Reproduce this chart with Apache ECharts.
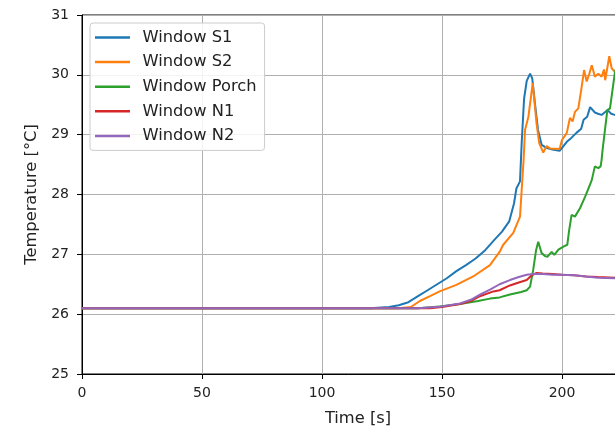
<!DOCTYPE html>
<html>
<head>
<meta charset="utf-8">
<script src="https://cdn.jsdelivr.net/npm/echarts@6/dist/echarts.min.js"></script>
<style>
html,body{margin:0;padding:0;background:#fff;}
#chart{width:615px;height:427px;}
</style>
</head>
<body>
<div id="chart"></div>
<script>
// ---- data ----
const seriesNames = ["Window S1", "Window S2", "Window Porch", "Window N1", "Window N2"];

const timeS1 = [0, 60, 120, 128, 132, 136, 140, 144, 148, 152, 156, 160, 164, 168, 172, 175, 178, 180, 181, 182.5, 183.2, 184.2, 185.3, 186.7, 187.6, 188.7, 190, 191.5, 193.5, 196, 199, 202, 204, 206, 208, 209, 210.5, 211.7, 213.7, 215, 216.5, 218, 219, 220.5, 222, 224];
const tempS1 = [26.1, 26.1, 26.1, 26.12, 26.15, 26.2, 26.3, 26.4, 26.5, 26.6, 26.72, 26.82, 26.93, 27.07, 27.25, 27.38, 27.55, 27.85, 28.1, 28.22, 28.86, 29.6, 29.9, 30.02, 29.94, 29.53, 29.08, 28.83, 28.78, 28.75, 28.73, 28.88, 28.95, 29.03, 29.1, 29.25, 29.3, 29.46, 29.37, 29.35, 29.33, 29.38, 29.41, 29.35, 29.33, 29.3];

const timeS2 = [0, 60, 120, 132, 137, 140.8, 145, 149, 156, 163, 170, 171.4, 174, 175.5, 179.7, 182.5, 184, 184.6, 186, 187.8, 189.4, 190.5, 192.2, 193.6, 195, 199, 200, 202, 203.3, 204.4, 205.4, 206.8, 208.2, 209.2, 210.3, 211.4, 212.4, 213.7, 215.1, 216.5, 217.5, 218, 219.7, 220.7, 222, 224];
const tempS2 = [26.1, 26.1, 26.1, 26.1, 26.12, 26.22, 26.3, 26.38, 26.49, 26.63, 26.82, 26.9, 27.04, 27.16, 27.36, 27.63, 28.58, 29.08, 29.3, 29.86, 29.19, 28.86, 28.7, 28.81, 28.77, 28.76, 28.91, 29.03, 29.28, 29.22, 29.38, 29.44, 29.8, 30.08, 29.89, 30.02, 30.16, 29.97, 30.02, 29.97, 30.09, 29.91, 30.31, 30.11, 30.05, 30.1];

const timePorch = [0, 60, 120, 140, 149, 157.5, 165, 170, 174, 178.3, 183, 185.3, 186.7, 188, 189.2, 190.1, 190.8, 191.5, 193, 193.9, 195.7, 196.8, 198.5, 200.6, 202.2, 203, 204, 205.4, 207.5, 209.6, 211, 212.4, 213.7, 215.1, 216.1, 216.5, 216.9, 217.9, 218.9, 220, 220.7, 222, 224];
const tempPorch = [26.1, 26.1, 26.1, 26.1, 26.13, 26.17, 26.22, 26.26, 26.28, 26.33, 26.37, 26.4, 26.46, 26.74, 27.07, 27.21, 27.18, 27.02, 26.97, 26.96, 27.04, 26.99, 27.08, 27.13, 27.16, 27.41, 27.66, 27.63, 27.77, 27.96, 28.1, 28.24, 28.47, 28.44, 28.47, 28.58, 28.74, 29.08, 29.41, 29.44, 29.47, 30.03, 30.3];

const timeN1 = [0, 60, 120, 145, 150, 157.5, 162, 165.8, 171.4, 174, 178.3, 182, 185.3, 187.4, 189.4, 192, 196, 200, 205, 210, 215, 222, 224];
const tempN1 = [26.1, 26.1, 26.1, 26.1, 26.12, 26.17, 26.22, 26.3, 26.38, 26.4, 26.48, 26.53, 26.57, 26.65, 26.69, 26.68, 26.67, 26.66, 26.65, 26.63, 26.62, 26.61, 26.61];

const timeN2 = [0, 60, 120, 140, 150, 157.5, 162, 166, 170, 174, 178.3, 182, 185.3, 188, 192, 196, 200, 205, 210, 215, 222, 224];
const tempN2 = [26.1, 26.1, 26.1, 26.1, 26.13, 26.18, 26.24, 26.33, 26.41, 26.5, 26.57, 26.62, 26.66, 26.67, 26.67, 26.66, 26.66, 26.65, 26.63, 26.61, 26.6, 26.6];

const xTicks = [0, 50, 100, 150, 200];
const yTicks = [25, 26, 27, 28, 29, 30, 31];

const colors = ["#1f77b4", "#ff7f0e", "#2ca02c", "#d62728", "#9467bd"];

// ---- build ----
function zip(t, v) { return t.map((x, i) => [x, v[i]]); }
const allData = [zip(timeS1, tempS1), zip(timeS2, tempS2), zip(timePorch, tempPorch), zip(timeN1, tempN1), zip(timeN2, tempN2)];

const FONT = "DejaVu Sans";
const chart = echarts.init(document.getElementById("chart"), null, {renderer: "canvas"});
chart.setOption({
  backgroundColor: "#ffffff",
  animation: false,
  color: colors,
  grid: {
    left: 82, top: 15, width: 552, height: 359,
    containLabel: false, outerBoundsMode: "none",
    show: true, borderColor: "#000", borderWidth: 1, backgroundColor: "transparent"
  },
  legend: {
    orient: "vertical",
    left: 90, top: 23,
    padding: [5, 8, 5, 5],
    itemGap: 5.6,
    itemWidth: 35, itemHeight: 2.5,
    icon: "rect",
    backgroundColor: "rgba(255,255,255,0.85)",
    borderColor: "#cccccc", borderWidth: 1, borderRadius: 3,
    textStyle: {fontFamily: FONT, fontSize: 16.3, color: "#222", lineHeight: 19, padding: [0, 0, 0, 7.4]},
    data: seriesNames
  },
  xAxis: {
    type: "value", min: 0, max: 230, interval: 50,
    name: "Time [s]", nameLocation: "middle", nameGap: 37,
    nameTextStyle: {fontFamily: FONT, fontSize: 16.3, color: "#222"},
    axisLine: {show: true, lineStyle: {color: "#000", width: 1}},
    axisTick: {show: true, inside: false, length: 5, lineStyle: {color: "#000"}},
    axisLabel: {fontFamily: FONT, fontSize: 14, color: "#222", margin: 12,
      formatter: v => xTicks.includes(v) ? String(v) : ""},
    splitLine: {show: true, lineStyle: {color: "#b0b0b0", width: 1}}
  },
  yAxis: {
    type: "value", min: 25, max: 31, interval: 1,
    name: "Temperature [°C]", nameLocation: "middle", nameGap: 42,
    nameTextStyle: {fontFamily: FONT, fontSize: 16.3, color: "#222"},
    axisLine: {show: true, lineStyle: {color: "#000", width: 1}},
    axisTick: {show: true, inside: false, length: 5, lineStyle: {color: "#000"}},
    axisLabel: {fontFamily: FONT, fontSize: 14, color: "#222", margin: 13,
      formatter: v => yTicks.includes(v) ? String(v) : ""},
    splitLine: {show: true, lineStyle: {color: "#b0b0b0", width: 1}}
  },
  series: seriesNames.map((n, i) => ({
    name: n, type: "line", data: allData[i],
    symbol: "none", showSymbol: false, clip: true,
    lineStyle: {width: 2, color: colors[i]},
    itemStyle: {color: colors[i]},
    z: 2 + i
  }))
});
</script>
</body>
</html>
